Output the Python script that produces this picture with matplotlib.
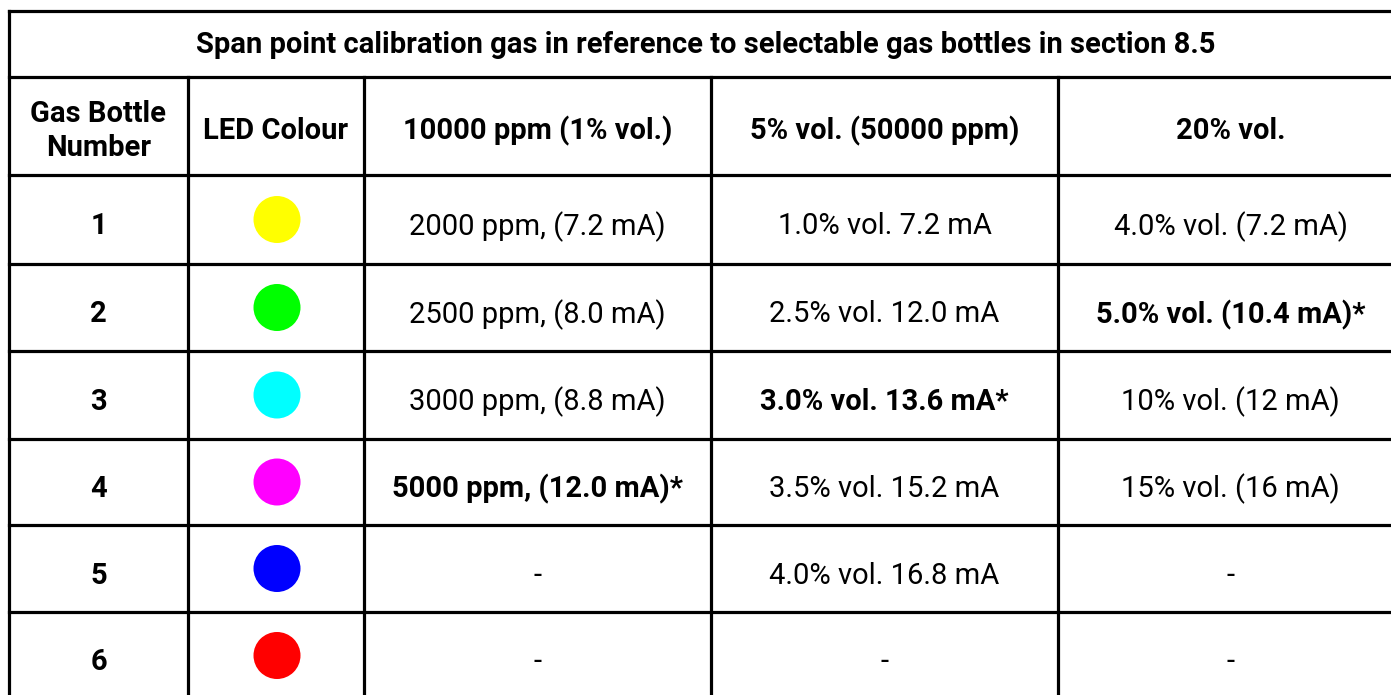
import matplotlib.pyplot as plt
from matplotlib.patches import Circle

title = "Span point calibration gas in reference to selectable gas bottles in section 8.5"
headers = ["Gas Bottle\nNumber", "LED Colour", "10000 ppm (1% vol.)", "5% vol. (50000 ppm)", "20% vol."]
bottles = ["1", "2", "3", "4", "5", "6"]
led_colours = ["#ffff00", "#00ff00", "#00ffff", "#ff00ff", "#0000ff", "#ff0000"]
ppm_10000 = ["2000 ppm, (7.2 mA)", "2500 ppm, (8.0 mA)", "3000 ppm, (8.8 mA)",
             "5000 ppm, (12.0 mA)*", "-", "-"]
vol_5 = ["1.0% vol. 7.2 mA", "2.5% vol. 12.0 mA", "3.0% vol. 13.6 mA*",
         "3.5% vol. 15.2 mA", "4.0% vol. 16.8 mA", "-"]
vol_20 = ["4.0% vol. (7.2 mA)", "5.0% vol. (10.4 mA)*", "10% vol. (12 mA)",
          "15% vol. (16 mA)", "-", "-"]

# table grid in pixels
col_x = [9, 188, 364, 711, 1058, 1403]
row_y = [11, 77, 175, 264, 351, 439, 525, 612, 699]

W, H = 1391, 695
fig = plt.figure(figsize=(W / 100, H / 100), dpi=100)
ax = fig.add_axes([0, 0, 1, 1])
ax.set_xlim(0, W)
ax.set_ylim(H, 0)
ax.axis("off")

plt.rcParams['font.family'] = ['Roboto', 'DejaVu Sans']
fs = 21
lw = 2.3

# outer + grid lines
for y in row_y:
    ax.plot([col_x[0], col_x[-1]], [y, y], color="black", lw=lw, solid_capstyle="projecting")
ax.plot([col_x[0], col_x[0]], [row_y[0], row_y[-1]], color="black", lw=lw)
for x in col_x[1:]:
    ax.plot([x, x], [row_y[1], row_y[-1]], color="black", lw=lw)

def cx(i):
    return (col_x[i] + col_x[i + 1]) / 2

def cy(j):
    return (row_y[j] + row_y[j + 1]) / 2

ax.text((col_x[0] + col_x[-1]) / 2, cy(0) + 1, title, ha="center", va="center",
        fontsize=fs, fontweight="bold")
for i, h in enumerate(headers):
    ax.text(cx(i), cy(1) + 5, h, ha="center", va="center", fontsize=fs,
            fontweight="bold", linespacing=1.25)

for r in range(len(bottles)):
    j = r + 2
    ax.text(cx(0), cy(j) + 7, bottles[r], ha="center", va="center", fontsize=fs, fontweight="bold")
    ax.add_patch(Circle((cx(1) + 1, cy(j)), 23.5, color=led_colours[r], lw=0))
    for i, col in zip([2, 3, 4], [ppm_10000, vol_5, vol_20]):
        s = col[r]
        ax.text(cx(i), cy(j) + 7, s, ha="center", va="center", fontsize=fs,
                fontweight="bold" if s.endswith("*") else "normal")

fig.savefig("out.png", dpi=100)
